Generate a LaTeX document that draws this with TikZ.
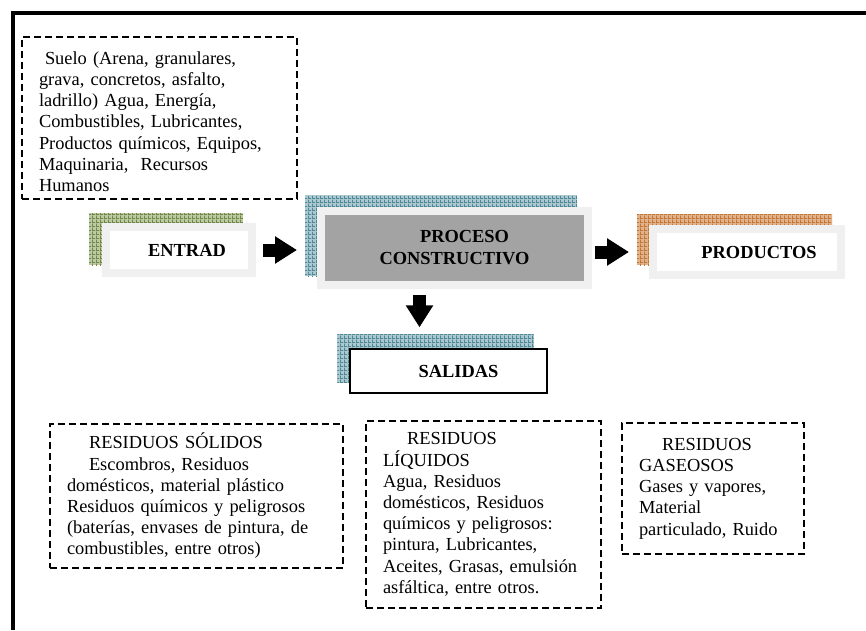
\documentclass[tikz,border=0pt]{standalone}
\usepackage{fontspec}
\setmainfont{Liberation Serif}
\usepackage{tikz}
\usetikzlibrary{arrows.meta,backgrounds,calc,patterns,positioning}
\definecolor{verdeC}{HTML}{BCCAA2}
\definecolor{verdeO}{HTML}{71884A}
\definecolor{azulC}{HTML}{ABC7CF}
\definecolor{azulO}{HTML}{4E8796}
\definecolor{naranjaC}{HTML}{E2B28C}
\definecolor{naranjaO}{HTML}{C27636}
\definecolor{grisC}{HTML}{F0F0F0}
\definecolor{grisO}{HTML}{A3A3A3}
\pgfdeclarepatternformonly{malla}{\pgfqpoint{0pt}{0pt}}{\pgfqpoint{4pt}{4pt}}{\pgfqpoint{4pt}{4pt}}{%
  \pgfsetlinewidth{0.9pt}
  \pgfpathmoveto{\pgfqpoint{0pt}{0.5pt}}\pgfpathlineto{\pgfqpoint{4pt}{0.5pt}}
  \pgfpathmoveto{\pgfqpoint{0.5pt}{0pt}}\pgfpathlineto{\pgfqpoint{0.5pt}{4pt}}
  \pgfusepath{stroke}}

\begin{document}
\begin{tikzpicture}[x=1pt,y=-1pt,
  punteada/.style={draw,line width=1.4pt,dash pattern=on 7pt off 4pt,inner xsep=17pt,align=left,
    font=\fontsize{18.4}{21.2}\selectfont},
  marco/.style={draw=grisC,line width=8pt,fill=white,inner sep=0pt,
    font=\fontsize{18.4}{22}\selectfont\bfseries},
  flecha/.style={-{Triangle[length=22pt,width=26pt]},line width=13pt}]
\useasboundingbox (0,0) rectangle (866,630);
\draw[line width=3.5pt] (13,630) -- (13,13) -- (866,13);

\node[punteada,text width=241pt,minimum height=162pt] (insumos) at (159.5,118) {\rule{0pt}{20pt}\hspace*{6pt}Suelo (Arena, granulares,\\ grava, concretos, asfalto,\\ ladrillo) Agua, Energía,\\ Combustibles, Lubricantes,\\ Productos químicos, Equipos,\\ Maquinaria,\ \ Recursos\\ Humanos};

\node[marco,minimum width=146pt,minimum height=46pt] (entrad) at (179,250) {\hspace*{16pt}ENTRAD};
\node[marco,fill=grisO,minimum width=267pt,minimum height=74pt,align=center] (proceso) at (454.5,248) {\hspace*{20pt}PROCESO\\CONSTRUCTIVO};
\node[marco,minimum width=188pt,minimum height=46pt] (productos) at (747,252) {\hspace*{24pt}PRODUCTOS};
\node[marco,draw=black,line width=1.3pt,minimum width=197pt,minimum height=44pt] (salidas) at (448.5,371) {\hspace*{20pt}SALIDAS};

\begin{scope}[on background layer]
\fill[verdeC] ($(entrad.north west)+(-13,-10)$) rectangle ($(entrad.south east)+(-13,-12)$);
\fill[pattern=malla,pattern color=verdeO] ($(entrad.north west)+(-13,-10)$) rectangle ($(entrad.south east)+(-13,-12)$);
\fill[azulC] ($(proceso.north west)+(-12,-12)$) rectangle ($(proceso.south east)+(-15,-13)$);
\fill[pattern=malla,pattern color=azulO] ($(proceso.north west)+(-12,-12)$) rectangle ($(proceso.south east)+(-15,-13)$);
\fill[naranjaC] ($(productos.north west)+(-12,-11)$) rectangle ($(productos.south east)+(-13,-14)$);
\fill[pattern=malla,pattern color=naranjaO] ($(productos.north west)+(-12,-11)$) rectangle ($(productos.south east)+(-13,-14)$);
\fill[azulC] ($(salidas.north west)+(-12,-14)$) rectangle ($(salidas.south east)+(-14,-11)$);
\fill[pattern=malla,pattern color=azulO] ($(salidas.north west)+(-12,-14)$) rectangle ($(salidas.south east)+(-14,-11)$);
\end{scope}

\draw[flecha,shorten <=7pt,shorten >=20pt] (entrad.east) -- (entrad.east -| proceso.west);
\draw[flecha,shorten <=3pt,shorten >=20pt] (proceso.east |- productos.west) -- (productos.west);
\coordinate (bajada) at ($(proceso.south)+(-35,0)$);
\draw[flecha,shorten <=6pt,shorten >=21pt] (bajada) -- (bajada |- salidas.north);

\node[punteada,text width=259pt,minimum height=144pt] (solidos) at (196.5,496) {\hspace*{22pt}RESIDUOS SÓLIDOS\\ \hspace*{22pt}Escombros, Residuos\\ domésticos, material plástico\\ Residuos químicos y peligrosos\\ (baterías, envases de pintura, de\\ combustibles, entre otros)};
\node[punteada,text width=201pt,minimum height=187pt] (liquidos) at (483.5,514.5) {\hspace*{24pt}RESIDUOS\\ LÍQUIDOS\\ Agua, Residuos\\ domésticos, Residuos\\ químicos y peligrosos:\\ pintura, Lubricantes,\\ Aceites, Grasas, emulsión\\ asfáltica, entre otros.};
\node[punteada,text width=148pt,minimum height=131pt] (gaseosos) at (713,488.5) {\hspace*{23pt}RESIDUOS\\ GASEOSOS\\ Gases y vapores,\\ Material\\ particulado, Ruido};
\end{tikzpicture}
\end{document}
